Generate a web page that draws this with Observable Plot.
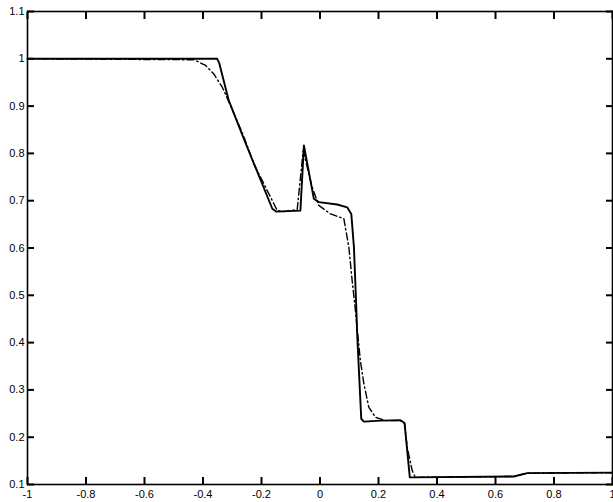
<!DOCTYPE html>
<html>
<head>
<meta charset="utf-8">
<script src="https://cdn.jsdelivr.net/npm/d3@7"></script>
<script src="https://cdn.jsdelivr.net/npm/@observablehq/plot@0.6"></script>
<style>
  html, body { margin: 0; padding: 0; background: #fff; }
  #chart svg { display: block; }
</style>
</head>
<body>
<div id="chart"></div>
<script>
// Solid curve
const solidX = [-1, -0.352, -0.345, -0.312, -0.2605, -0.163, -0.150, -0.067, -0.055, -0.021, -0.004, 0.059, 0.093, 0.107, 0.116, 0.124, 0.127, 0.141, 0.150, 0.207, 0.275, 0.289, 0.307, 0.315, 0.663, 0.708, 1.0];
const solidY = [1.0, 1.0, 0.992, 0.912, 0.831, 0.683, 0.677, 0.679, 0.817, 0.704, 0.697, 0.692, 0.686, 0.672, 0.602, 0.475, 0.419, 0.239, 0.233, 0.235, 0.236, 0.230, 0.115, 0.115, 0.117, 0.124, 0.125];
// Dash-dot curve
const dashX = [-1, -0.431, -0.391, -0.363, -0.334, -0.306, -0.262, -0.2263, -0.146, -0.125, -0.078, -0.0575, -0.027, -0.004, 0.036, 0.0815, 0.0986, 0.110, 0.121, 0.138, 0.150, 0.167, 0.190, 0.224, 0.275, 0.289, 0.298, 0.315, 0.326, 0.662, 0.709, 1.0];
const dashY = [1.0, 0.998, 0.986, 0.968, 0.940, 0.901, 0.838, 0.778, 0.679, 0.677, 0.681, 0.806, 0.729, 0.690, 0.672, 0.662, 0.602, 0.531, 0.468, 0.362, 0.313, 0.263, 0.242, 0.235, 0.235, 0.229, 0.179, 0.130, 0.115, 0.117, 0.124, 0.125];
// Ticks
const xTicks = [-1, -0.8, -0.6, -0.4, -0.2, 0, 0.2, 0.4, 0.6, 0.8, 1];
const xTickLabels = ["-1", "-0.8", "-0.6", "-0.4", "-0.2", "0", "0.2", "0.4", "0.6", "0.8", "1"];
const yTicks = [0.1, 0.2, 0.3, 0.4, 0.5, 0.6, 0.7, 0.8, 0.9, 1, 1.1];
const yTickLabels = ["0.1", "0.2", "0.3", "0.4", "0.5", "0.6", "0.7", "0.8", "0.9", "1", "1.1"];

const solid = solidX.map((x, i) => ({x, y: solidY[i]}));
const dash = dashX.map((x, i) => ({x, y: dashY[i]}));
const xl = new Map(xTicks.map((t, i) => [t, xTickLabels[i]]));
const yl = new Map(yTicks.map((t, i) => [t, yTickLabels[i]]));

const FONT = "'Liberation Sans', Arial, sans-serif";
const TL = 7; // inward tick length

const chart = Plot.plot({
  width: 613,
  height: 502,
  marginLeft: 27,
  marginRight: 1,
  marginTop: 11,
  marginBottom: 18,
  x: {domain: [-1, 1]},
  y: {domain: [0.1, 1.1]},
  marks: [
    Plot.line(dash, {x: "x", y: "y", stroke: "black", strokeWidth: 1.4, strokeDasharray: "7,3,1.5,3"}),
    Plot.line(solid, {x: "x", y: "y", stroke: "black", strokeWidth: 1.9}),
    Plot.axisX(xTicks, {anchor: "bottom", tickSize: 0, tickPadding: 6, tickFormat: d => xl.get(d), fontSize: 11, fontFamily: FONT, label: null, fill: "black"}),
    Plot.axisY(yTicks, {anchor: "left", tickSize: 0, tickPadding: 3, tickFormat: d => yl.get(d), fontSize: 11, fontFamily: FONT, label: null, fill: "black"}),
    // inward tick marks on all four sides
    Plot.axisX(xTicks, {anchor: "bottom", tickSize: TL, dy: -TL, text: null, label: null, strokeWidth: 2, stroke: "black"}),
    Plot.axisX(xTicks, {anchor: "top", tickSize: TL, dy: TL, text: null, label: null, strokeWidth: 2, stroke: "black"}),
    Plot.axisY(yTicks, {anchor: "left", tickSize: TL, dx: TL, text: null, label: null, strokeWidth: 2, stroke: "black"}),
    Plot.axisY(yTicks, {anchor: "right", tickSize: TL, dx: -TL, text: null, label: null, strokeWidth: 2, stroke: "black"}),
    Plot.frame({stroke: "black", strokeWidth: 1.6})
  ]
});
document.getElementById("chart").appendChild(chart);
</script>
</body>
</html>
